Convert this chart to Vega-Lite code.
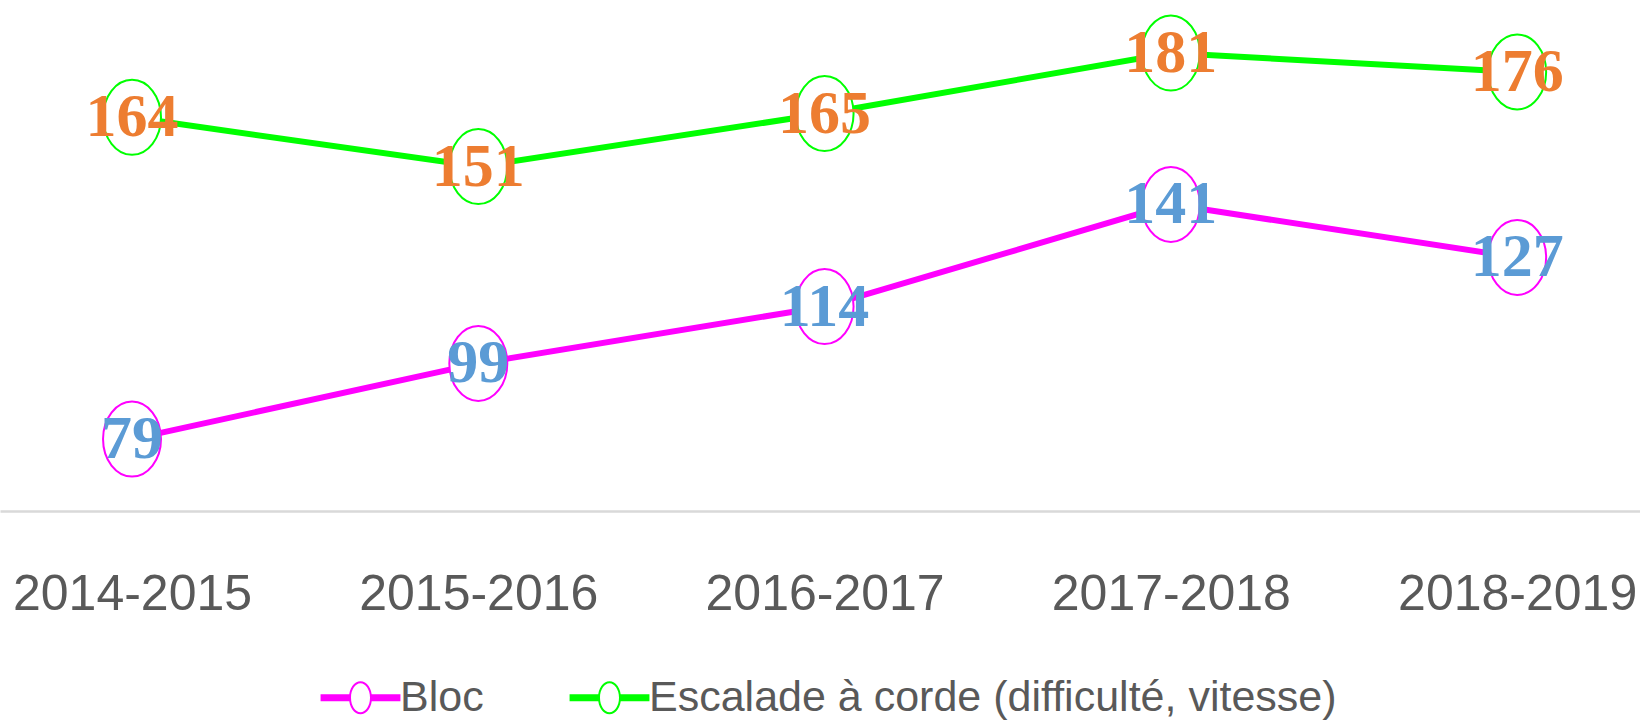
{
  "$schema": "https://vega.github.io/schema/vega-lite/v6.json",
  "width": 1640,
  "height": 511,
  "autosize": {"type": "none"},
  "padding": {"left": 0, "top": 0, "right": 0, "bottom": 209},
  "background": "white",
  "config": {"view": {"stroke": null}},
  "data": {"values": [
    {"year": "2014-2015", "series": "Bloc", "value": 79},
    {"year": "2015-2016", "series": "Bloc", "value": 99},
    {"year": "2016-2017", "series": "Bloc", "value": 114},
    {"year": "2017-2018", "series": "Bloc", "value": 141},
    {"year": "2018-2019", "series": "Bloc", "value": 127},
    {"year": "2014-2015", "series": "Escalade à corde (difficulté, vitesse)", "value": 164},
    {"year": "2015-2016", "series": "Escalade à corde (difficulté, vitesse)", "value": 151},
    {"year": "2016-2017", "series": "Escalade à corde (difficulté, vitesse)", "value": 165},
    {"year": "2017-2018", "series": "Escalade à corde (difficulté, vitesse)", "value": 181},
    {"year": "2018-2019", "series": "Escalade à corde (difficulté, vitesse)", "value": 176}
  ]},
  "encoding": {
    "x": {"field": "year", "type": "ordinal", "sort": null,
      "scale": {"type": "point", "padding": 0.368, "align": 0.518},
      "axis": {"title": null, "labelAngle": 0, "ticks": false, "grid": false,
        "domainColor": "#d9d9d9", "domainWidth": 2.5,
        "labelFont": "Liberation Sans", "labelFontSize": 50, "labelColor": "#595959",
        "labelBaseline": "alphabetic", "labelPadding": 98, "labelLimit": 500}},
    "y": {"field": "value", "type": "quantitative",
      "scale": {"domain": [60, 195], "zero": false, "nice": false},
      "axis": null}
  },
  "layer": [
    {
      "mark": {"type": "line", "strokeWidth": 6},
      "encoding": {
        "color": {"field": "series", "type": "nominal",
          "scale": {"domain": ["Bloc", "Escalade à corde (difficulté, vitesse)"], "range": ["#FF00FF", "#00FF00"]},
          "legend": {
            "title": null, "orient": "none", "direction": "horizontal",
            "legendX": 339, "legendY": 676,
            "symbolType": "M -2.42,-0.21 L -0.66,-0.21 L -0.66,0.21 L -2.42,0.21 Z M 0.66,-0.21 L 2.42,-0.21 L 2.42,0.21 L 0.66,0.21 Z M -0.697,0 A 0.697,1 0 1,1 0.697,0 A 0.697,1 0 1,1 -0.697,0 Z M -0.576,0 A 0.576,0.879 0 1,0 0.576,0 A 0.576,0.879 0 1,0 -0.576,0 Z",
            "symbolSize": 1089, "symbolStrokeWidth": 0,
            "labelFont": "Liberation Sans", "labelFontSize": 43, "labelColor": "#595959",
            "labelOffset": 18, "columnPadding": 85, "labelLimit": 1000,
            "encode": {"symbols": {"update": {
              "fill": {"scale": "color", "field": "value"},
              "stroke": {"value": "transparent"},
              "strokeWidth": {"value": 0},
              "opacity": {"value": 1}}}}
          }}
      }
    },
    {
      "mark": {"type": "point", "shape": "M -0.773,0 A 0.773,1 0 1,0 0.773,0 A 0.773,1 0 1,0 -0.773,0 Z",
        "size": 5625, "filled": true, "fill": "white", "strokeWidth": 2, "opacity": 1},
      "encoding": {
        "stroke": {"condition": {"test": "datum.series === 'Bloc'", "value": "#FF00FF"}, "value": "#00FF00"}
      }
    },
    {
      "mark": {"type": "text", "font": "Liberation Serif", "fontWeight": "bold", "fontSize": 62, "baseline": "middle", "align": "center"},
      "encoding": {
        "text": {"field": "value", "type": "quantitative"},
        "color": {"condition": {"test": "datum.series === 'Bloc'", "value": "#5B9BD5"}, "value": "#ED7D31"}
      }
    }
  ]
}
